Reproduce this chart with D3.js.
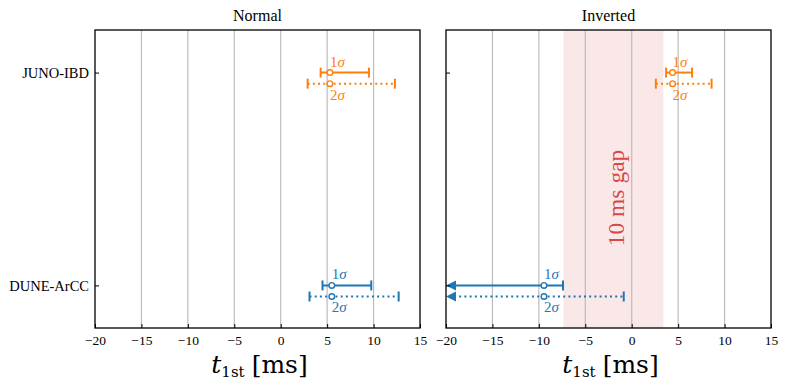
<!DOCTYPE html>
<html><head><meta charset="utf-8">
<script src="https://cdn.jsdelivr.net/npm/d3@7"></script>
<style>body{margin:0;background:#fff}svg text{font-family:"Liberation Serif","DejaVu Serif",serif;}</style>
</head><body><svg id="c" width="789" height="386"></svg>
<script>
const panels = ["Normal", "Inverted"];
const detectors = ["JUNO-IBD", "DUNE-ArCC"];
const colors = ["#ff7f0e", "#1f77b4"];
const xTicks = [-20, -15, -10, -5, 0, 5, 10, 15];
const gridLines = [-15, -10, -5, 0, 5, 10];
// per panel, per detector: [center, lo1, hi1, lo2, hi2]
const normalVals = [[5.3, 4.3, 9.5, 2.9, 12.3], [5.5, 4.5, 9.75, 3.1, 12.7]];
const invertedVals = [[4.4, 3.7, 6.5, 2.6, 8.6], [-9.45, -20, -7.4, -20, -0.86]];
const invertedLowerOpen = [[false, false], [true, true]];
const gapRange = [-7.35, 3.4];
const gapLabel = "10 ms gap";

(function () {
const svg = d3.select("#c");
const panelX = [95, 446], pw = 325, yTop = 30, yBot = 328;
const y = d3.scaleLinear().domain([-0.2, 1.2]).range([yTop, yBot]);
const off = 0.052;

panels.forEach((name, pi) => {
  const x = d3.scaleLinear().domain([-20, 15]).range([panelX[pi], panelX[pi] + pw]);
  const g = svg.append("g");
  if (pi === 1) {
    g.append("rect").attr("x", x(gapRange[0])).attr("y", yTop).attr("width", x(gapRange[1]) - x(gapRange[0])).attr("height", yBot - yTop).attr("fill", "#d62728").attr("fill-opacity", 0.11);
  }
  g.selectAll("line.grid").data(gridLines).enter().append("line")
    .attr("x1", d => x(d)).attr("x2", d => x(d)).attr("y1", yTop).attr("y2", yBot)
    .attr("stroke", "#bcbcbc").attr("stroke-width", 1.2);
  if (pi === 1) {
    const cx = (x(gapRange[0]) + x(gapRange[1])) / 2 + 3;
    g.append("text").attr("transform", `translate(${cx},${y(0.5) + 19}) rotate(-90)`)
      .attr("text-anchor", "middle").attr("dominant-baseline", "central")
      .attr("fill", "#d62728").attr("fill-opacity", 0.85).attr("font-size", 23.5).text(gapLabel);
  }
  const vals = pi === 0 ? normalVals : invertedVals;
  detectors.forEach((det, di) => {
    const v = vals[di], col = colors[di];
    const open = pi === 1 ? invertedLowerOpen[di] : [false, false];
    [[v[1], v[2], 0, open[0]], [v[3], v[4], off, open[1]]].forEach(([lo, hi, o, op], k) => {
      const yy = y(di + o);
      g.append("line").attr("x1", x(lo) + (op ? 8 : 0)).attr("x2", x(hi)).attr("y1", yy).attr("y2", yy)
        .attr("stroke", col).attr("stroke-width", 2)
        .attr("stroke-dasharray", k === 1 ? "2,3.2" : null);
      g.append("line").attr("x1", x(hi)).attr("x2", x(hi)).attr("y1", yy - 5).attr("y2", yy + 5).attr("stroke", col).attr("stroke-width", 2);
      if (op) {
        g.append("path").attr("d", `M${x(lo)},${yy} l10,-5 l0,10 z`).attr("fill", col);
      } else {
        g.append("line").attr("x1", x(lo)).attr("x2", x(lo)).attr("y1", yy - 5).attr("y2", yy + 5).attr("stroke", col).attr("stroke-width", 2);
      }
      g.append("circle").attr("cx", x(v[0])).attr("cy", yy).attr("r", 2.8).attr("fill", "#fff").attr("stroke", col).attr("stroke-width", 1.4);
    });
    const t1 = g.append("text").attr("x", x(v[0])).attr("y", y(di) - 6).attr("fill", col).attr("font-size", 15);
    t1.append("tspan").text("1");
    t1.append("tspan").attr("font-style", "italic").text("σ");
    const t2 = g.append("text").attr("x", x(v[0])).attr("y", y(di + off) + 16).attr("fill", col).attr("font-size", 15);
    t2.append("tspan").text("2");
    t2.append("tspan").attr("font-style", "italic").text("σ");
  });
  g.append("rect").attr("x", panelX[pi]).attr("y", yTop).attr("width", pw).attr("height", yBot - yTop)
    .attr("fill", "none").attr("stroke", "#000").attr("stroke-width", 1.3);
  const ax = d3.axisBottom(x).tickValues(xTicks).tickSizeInner(-4).tickSizeOuter(0).tickPadding(7)
    .tickFormat(d => d < 0 ? "\u2212" + Math.abs(d) : d);
  const axg = g.append("g").attr("transform", `translate(0,${yBot})`).call(ax);
  axg.select(".domain").remove();
  axg.selectAll("text").attr("font-size", 13.5).attr("fill", "#000");
  axg.selectAll("line").attr("stroke", "#000");
  const ay = d3.axisLeft(y).tickValues([0, 1]).tickSizeInner(-4).tickSizeOuter(0).tickPadding(6)
    .tickFormat(d => pi === 0 ? detectors[d] : "");
  const ayg = g.append("g").attr("transform", `translate(${panelX[pi]},0)`).call(ay);
  ayg.select(".domain").remove();
  ayg.selectAll("text").attr("font-size", 14.5).attr("fill", "#000");
  ayg.selectAll("line").attr("stroke", "#000");
  g.append("text").attr("x", panelX[pi] + pw / 2).attr("y", 21).attr("text-anchor", "middle").attr("font-size", 16).text(name);
  const xl = g.append("text").attr("x", panelX[pi] + pw / 2 + 2).attr("y", 373).attr("text-anchor", "middle")
    .attr("font-size", 25).style("font-family", "'DejaVu Serif', serif").attr("font-weight", 300);
  xl.append("tspan").attr("font-style", "italic").text("t");
  xl.append("tspan").attr("font-size", 15).attr("dy", 4).text("1st");
  xl.append("tspan").attr("dy", -4).attr("dx", 7).text("[ms]");
});
})();
</script></body></html>
